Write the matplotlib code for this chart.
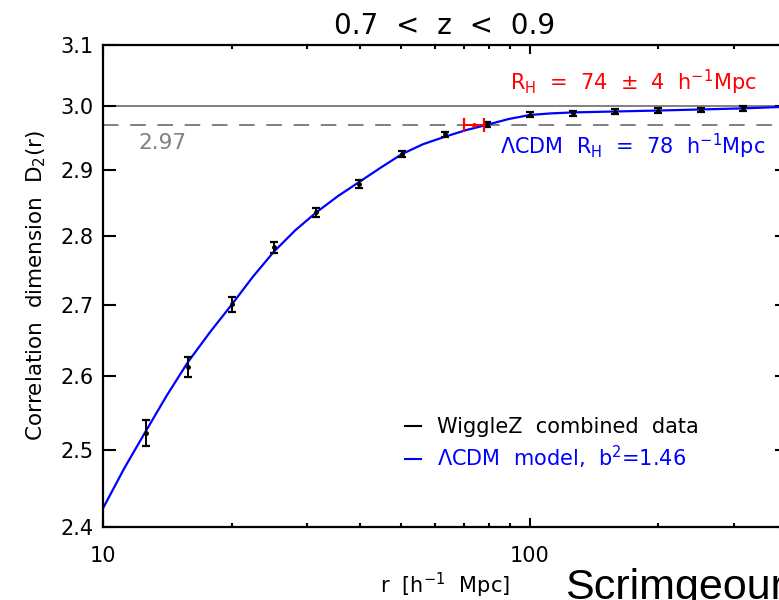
"""
Correlation dimension D2(r) for WiggleZ, 0.7 < z < 0.9
"""

import matplotlib
matplotlib.use("Agg")
import matplotlib.pyplot as plt
from matplotlib.lines import Line2D
from matplotlib.ticker import FixedLocator, FixedFormatter, NullLocator, NullFormatter

# --------------------------------------------------
# Data
# --------------------------------------------------
r_data = [12.6, 15.8, 20.0, 25.1, 31.6, 39.8, 50.1, 63.1, 79.4,
          100.0, 125.9, 158.5, 199.5, 251.2, 316.2]
d2_data = [2.522, 2.612, 2.701, 2.784, 2.836, 2.879, 2.925, 2.956, 2.972,
           2.987, 2.989, 2.9915, 2.9931, 2.9943, 2.997]
d2_err = [0.0174, 0.0139, 0.0108, 0.0081, 0.0065, 0.0061, 0.0045, 0.004, 0.004,
          0.0037, 0.0037, 0.0037, 0.0037, 0.0037, 0.0040]

r_model = [10, 11.2, 12.6, 14.1, 15.8, 17.8, 20, 22.4, 25.1, 28.2, 31.6, 35.5,
           39.8, 44.7, 50.1, 56.2, 63.1, 70.8, 79.4, 89.1, 100, 112.2, 125.9,
           158.5, 199.5, 251.2, 316.2, 400]
d2_model = [2.4235, 2.475, 2.525, 2.573, 2.619, 2.661, 2.700, 2.740, 2.777,
            2.809, 2.836, 2.8605, 2.882, 2.904, 2.925, 2.9405, 2.952, 2.9625,
            2.971, 2.980, 2.9865, 2.989, 2.9905, 2.992, 2.9935, 2.9952,
            2.997, 2.9995]

rh_value = 74
rh_err = 4
d2_threshold = 2.97
d2_homog = 3.0

y_ticks = [2.4, 2.5, 2.6, 2.7, 2.8, 2.9, 3.0, 3.1]
x_major = [10, 100]
x_minor = [20, 30, 40, 50, 60, 70, 80, 90, 200, 300]

# --------------------------------------------------
# Figure
# --------------------------------------------------
fig = plt.figure(figsize=(7.79, 6.0), dpi=100)
ax = fig.add_axes([103 / 779, 73.3 / 600, 684 / 779, 482 / 600])

ax.set_xscale("log")
ax.set_yscale("log")
ax.set_xlim(10, 400)
ax.set_ylim(2.4, 3.1)

# reference lines
ax.axhline(d2_homog, color="#808080", lw=1.4, zorder=1)
ax.axhline(d2_threshold, color="#808080", lw=1.4, ls=(0, (8, 6)), zorder=1)

# model
ax.plot(r_model, d2_model, color="blue", lw=1.6, zorder=2)

# data
ax.errorbar(r_data, d2_data, yerr=d2_err, fmt="o", ms=2.5, color="black",
            ecolor="black", elinewidth=1.4, capsize=3.2, capthick=1.6, zorder=3)

# R_H marker
ax.errorbar([rh_value], [d2_threshold], xerr=[rh_err], fmt="o", ms=2.5,
            color="red", elinewidth=1.4, capsize=5, capthick=1.6, zorder=4)

# ticks
ax.yaxis.set_major_locator(FixedLocator(y_ticks))
ax.yaxis.set_major_formatter(FixedFormatter([f"{v:.1f}" for v in y_ticks]))
ax.yaxis.set_minor_locator(NullLocator())
ax.yaxis.set_minor_formatter(NullFormatter())
ax.xaxis.set_major_locator(FixedLocator(x_major))
ax.xaxis.set_major_formatter(FixedFormatter([str(v) for v in x_major]))
ax.xaxis.set_minor_locator(FixedLocator(x_minor))
ax.xaxis.set_minor_formatter(NullFormatter())

ax.tick_params(which="both", direction="in", top=True, right=True,
               labelsize=15, width=1.5)
ax.tick_params(axis="y", which="major", length=9, pad=7)
ax.tick_params(axis="x", which="major", length=6.5, pad=14)
ax.tick_params(axis="x", which="minor", length=3)

for s in ax.spines.values():
    s.set_linewidth(1.6)

ax.set_title("0.7  <  z  <  0.9", fontsize=20, pad=8)
ax.set_xlabel(r"r  [h$^{-1}$  Mpc]", fontsize=15, labelpad=3)
ax.set_ylabel(r"Correlation  dimension  D$_2$(r)", fontsize=15.5, labelpad=9)

# annotations
ax.text(0.0863, 0.796, "2.97", color="#808080", fontsize=15.5,
        ha="center", va="center", transform=ax.transAxes)
ax.text(0.7756, 0.9226, r"R$_\mathrm{H}$  =  74  $\pm$  4  h$^{-1}$Mpc",
        color="red", fontsize=15, ha="center", va="center",
        transform=ax.transAxes)
ax.text(0.775, 0.7896, r"$\Lambda$CDM  R$_\mathrm{H}$  =  78  h$^{-1}$Mpc",
        color="blue", fontsize=15, ha="center", va="center",
        transform=ax.transAxes)

handles = [Line2D([], [], color="black", lw=1.5),
           Line2D([], [], color="blue", lw=1.5)]
labels = ["WiggleZ  combined  data", r"$\Lambda$CDM  model,  b$^2$=1.46"]
ax.legend(handles, labels, loc="upper left", bbox_to_anchor=(0.43, 0.245),
          frameon=False, fontsize=15, handlelength=0.75, handletextpad=0.75,
          labelspacing=0.35, labelcolor=["black", "blue"], borderaxespad=0)

fig.text(565 / 779, 1 / 600, "Scrimgeour", fontsize=31,
         family="Liberation Sans", va="baseline", ha="left")

fig.savefig("out.png", dpi=100)
